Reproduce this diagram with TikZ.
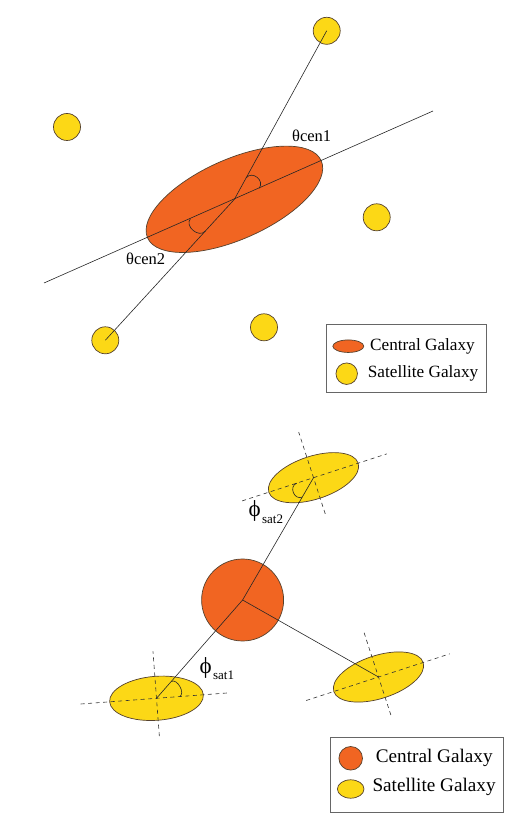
\documentclass[tikz,border=0pt]{standalone}
\usepackage{fontspec}
\setmainfont{Liberation Serif}
\usetikzlibrary{shapes.geometric,calc}
\definecolor{cenorange}{RGB}{241,101,34}
\definecolor{satyellow}{RGB}{252,216,22}
\definecolor{rimbrown}{RGB}{85,65,45}

\begin{document}
\begin{tikzpicture}[x=1pt,y=1pt,
  gal/.style={draw=rimbrown, line width=0.7pt, inner sep=0pt},
  cen/.style={gal, fill=cenorange},
  sat/.style={gal, fill=satyellow},
  ray/.style={line width=0.6pt, black!85},
  dashax/.style={line width=0.6pt, black!80, dash pattern=on 4pt off 3.5pt},
  keybox/.style={draw=black!60, line width=0.8pt},
  keytext/.style={anchor=west, inner sep=0pt},
  philabel/.style={anchor=base west, inner sep=0pt}]
  \useasboundingbox (0,0) rectangle (520,825);

  % upper panel: elongated central galaxy
  \node[cen, ellipse, minimum width=190pt, minimum height=80pt, rotate=24] (c1) at (234.4,625.7) {};
  \node[sat, circle, minimum size=27pt] (sA) at (326.7,794.2) {};
  \node[sat, circle, minimum size=27pt] (sB) at (67,698) {};
  \node[sat, circle, minimum size=27pt] (sC) at (376.7,607.7) {};
  \node[sat, circle, minimum size=27pt] (sD) at (105.3,484.7) {};
  \node[sat, circle, minimum size=27pt] (sE) at (264,497.7) {};
  \coordinate (ax1) at (44,542);
  \coordinate (ax2) at (433,714);
  \draw[ray] (ax1) -- (ax2);
  \draw[ray] (c1.center) -- (sA.center);
  \draw[ray] (c1.center) -- (sD.center);
  \draw[ray] ($(c1.center)!24.5pt!(sA.center)$) to[bend left=90, looseness=1.5] ($(c1.center)!27pt!(ax2)$);
  \draw[ray] ($(c1.center)!48pt!(ax1)$) to[bend right=90, looseness=1.3] ($(c1.center)!43pt!(sD.center)$);
  \node[font=\fontsize{16.5}{18}\selectfont] (t1) at (311.7,689) {θcen1};
  \node[font=\fontsize{16.5}{18}\selectfont] (t2) at (145.7,566.3) {θcen2};

  \draw[keybox] (326.7,432.3) rectangle (486,501);
  \node[cen, ellipse, minimum width=31pt, minimum height=12.5pt] (k1) at (348.3,478.8) {};
  \node[keytext, font=\fontsize{17.2}{19}\selectfont] (k1t) at (370,478.5) {Central Galaxy};
  \node[sat, circle, minimum size=21.5pt] (k2) at (346.7,451.3) {};
  \node[keytext, font=\fontsize{17.2}{19}\selectfont] (k2t) at (367.7,451.7) {Satellite Galaxy};

  % lower panel: round central galaxy, elongated satellites
  \node[cen, circle, minimum size=82pt] (c2) at (242.6,225) {};
  \node[sat, ellipse, minimum width=94pt, minimum height=44pt, rotate=4.3] (g1) at (156.5,126.7) {};
  \node[sat, ellipse, minimum width=94pt, minimum height=43pt, rotate=18] (g2) at (313.5,347.3) {};
  \node[sat, ellipse, minimum width=94pt, minimum height=43pt, rotate=18] (g3) at (378.5,148) {};
  \begin{scope}[shift={(g1.center)}, rotate=4.3]
    \draw[dashax] (-76,0) -- (74,0);
    \draw[dashax] (0,-38) -- (0,47);
  \end{scope}
  \begin{scope}[shift={(g2.center)}, rotate=18]
    \draw[dashax] (-75,0) -- (77,0);
    \draw[dashax] (0,-38) -- (0,48);
  \end{scope}
  \begin{scope}[shift={(g3.center)}, rotate=18]
    \draw[dashax] (-76,0) -- (75,0);
    \draw[dashax] (0,-40) -- (0,48);
  \end{scope}
  \draw[ray] (c2.center) -- (g1.center);
  \draw[ray] (c2.center) -- (g2.center);
  \draw[ray] (c2.center) -- (g3.center);
  \draw[ray] ($(g1.center)!22.4pt!(c2.center)$) to[bend left=90] ($(g1.center)+(4.3:23.3pt)$);
  \draw[ray] ($(g2.center)+(198:17.6pt)$) to[bend right=90, looseness=1.5] ($(g2.center)!22.5pt!(c2.center)$);
  \node[philabel] (p2) at (248.3,308) {\fontsize{23}{24}\selectfont ϕ\hspace{1.5pt}\raisebox{-6.5pt}{\fontsize{13}{14}\selectfont sat2}};
  \node[philabel] (p1) at (199.3,151.5) {\fontsize{23}{24}\selectfont ϕ\hspace{1.5pt}\raisebox{-6.5pt}{\fontsize{13}{14}\selectfont sat1}};

  \draw[keybox] (330,12.3) rectangle (503.3,87.7);
  \node[cen, circle, minimum size=23.6pt] (k3) at (350.7,66.7) {};
  \node[keytext, font=\fontsize{19.2}{21}\selectfont] (k3t) at (375.7,67) {Central Galaxy};
  \node[sat, ellipse, minimum width=26.6pt, minimum height=18.4pt] (k4) at (350.7,36) {};
  \node[keytext, font=\fontsize{19.2}{21}\selectfont] (k4t) at (372.3,38) {Satellite Galaxy};
\end{tikzpicture}
\end{document}
